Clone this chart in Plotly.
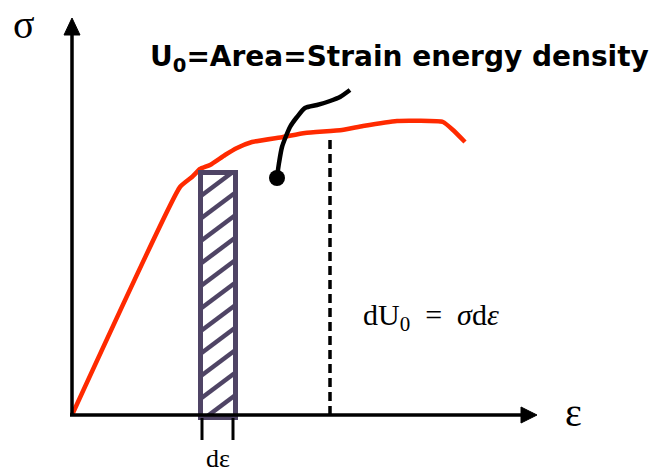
import plotly.graph_objects as go

# ---- data (strain in px-like units from origin, stress likewise) ----
curve_strain = [0, 108, 120, 128, 138, 153, 165, 180, 211, 233, 270, 291, 325, 371, 381, 393]
curve_stress = [0, 228, 238, 246, 250, 260, 267, 273, 278, 282, 285, 289, 294, 293, 285, 273]

leader_strain = [205, 207, 210, 218, 225, 233, 245, 258, 268, 278]
leader_stress = [238, 252, 268, 288, 298, 307, 310, 314, 318, 325]

strip_strain = [128.5, 163.5]     # d-epsilon strip
strip_top = 242.5
strip_bottom = -2.5
tick_strain = [130, 161]
dashed_strain = 258
dashed_top = 280

title_text = "U<sub>0</sub>=Area=Strain energy density"

fig = go.Figure()

# hatching inside strip
slope = 0.75
spacing = 22.5
hx, hy = [], []
x0, x1 = strip_strain
y_lo, y_hi = strip_bottom, strip_top
c = y_lo - slope * (x1 - x0) - spacing
while c < y_hi + spacing:
    pts = []
    for x in (x0, x1):
        y = c + slope * (x - x0)
        if y_lo <= y <= y_hi:
            pts.append((x, y))
    for y in (y_lo, y_hi):
        x = x0 + (y - c) / slope
        if x0 <= x <= x1:
            pts.append((x, y))
    if len(pts) >= 2:
        pts.sort()
        hx += [pts[0][0], pts[-1][0], None]
        hy += [pts[0][1], pts[-1][1], None]
    c += spacing
fig.add_trace(go.Scatter(x=hx, y=hy, mode="lines",
                         line=dict(color="#4f4465", width=4.5), hoverinfo="skip"))

# strip outline
fig.add_shape(type="rect", x0=x0, x1=x1, y0=y_lo, y1=y_hi,
              line=dict(color="#4f4465", width=5))

# dashed line
fig.add_trace(go.Scatter(x=[dashed_strain, dashed_strain], y=[0, dashed_top], mode="lines",
                         line=dict(color="black", width=3.5, dash="9px,5px"), hoverinfo="skip"))

# stress-strain curve
fig.add_trace(go.Scatter(x=curve_strain, y=curve_stress, mode="lines",
                         line=dict(color="#ff2a00", width=4.5, shape="spline", smoothing=0.4),
                         hoverinfo="skip"))

# leader line with dot
fig.add_trace(go.Scatter(x=leader_strain, y=leader_stress, mode="lines",
                         line=dict(color="black", width=4.5, shape="spline", smoothing=0.6),
                         hoverinfo="skip"))
fig.add_trace(go.Scatter(x=[leader_strain[0]], y=[leader_stress[0] - 1], mode="markers",
                         marker=dict(color="black", size=16), hoverinfo="skip"))

# axes
fig.add_shape(type="line", x0=0, x1=0, y0=0, y1=382, line=dict(color="black", width=3.5))
fig.add_shape(type="path", path="M -8 380 L 8 380 L 0 397 Z", fillcolor="black",
              line=dict(color="black", width=1))
fig.add_shape(type="line", x0=-2, x1=452, y0=0, y1=0, line=dict(color="black", width=3.5))
fig.add_shape(type="path", path="M 449 8 L 449 -8 L 465 0 Z", fillcolor="black",
              line=dict(color="black", width=1))

# tick marks for d-epsilon
for t in tick_strain:
    fig.add_shape(type="line", x0=t, x1=t, y0=-3, y1=-25, line=dict(color="black", width=3))

# texts
fig.add_annotation(x=-48, y=415, yanchor="top", text="σ", showarrow=False,
                   font=dict(family="Liberation Serif", size=40, color="black"))
fig.add_annotation(x=501, y=3, text="ε", showarrow=False,
                   font=dict(family="Liberation Serif", size=40, color="black"))
fig.add_annotation(x=146, y=-60, yanchor="bottom", text="dε", showarrow=False,
                   font=dict(family="Liberation Serif", size=26, color="black"))
fig.add_annotation(x=359, y=98, text="dU<sub>0</sub>  =  <i>σ</i>d<i>ε</i>", showarrow=False,
                   font=dict(family="Liberation Serif", size=30, color="black"))
fig.add_annotation(x=327, y=357, text="<b>" + title_text + "</b>", showarrow=False,
                   font=dict(family="DejaVu Sans", size=28, color="black"))

fig.update_layout(
    width=656, height=475,
    margin=dict(l=0, r=0, t=0, b=0),
    paper_bgcolor="white", plot_bgcolor="white",
    showlegend=False, hovermode=False,
    xaxis=dict(range=[-72, 584], visible=False, fixedrange=True),
    yaxis=dict(range=[-60, 415], visible=False, fixedrange=True),
)
fig.write_html("out.html", config={"displayModeBar": False, "staticPlot": True},
               post_script="document.body.style.margin='0';document.body.style.overflow='hidden';")
